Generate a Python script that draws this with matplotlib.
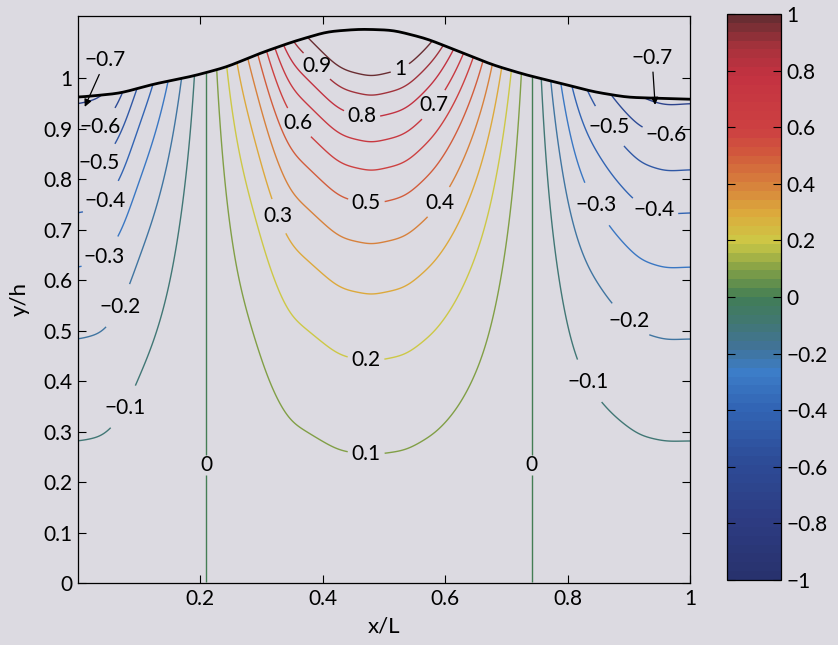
import numpy as np
import matplotlib
matplotlib.use("Agg")
import matplotlib.pyplot as plt
from matplotlib.colors import LinearSegmentedColormap, ListedColormap, Normalize
from matplotlib.cm import ScalarMappable

plt.rcParams["font.family"] = ["Lato", "DejaVu Sans"]
MINUS = "\u2212"
BG = "#dcdae1"

# free-surface elevation y/h along one wavelength
SURF_X = [0.0, 0.069, 0.123, 0.188, 0.243, 0.297, 0.351, 0.407, 0.461,
          0.515, 0.570, 0.624, 0.678, 0.733, 0.788, 0.842, 0.897, 1.0]
SURF_Y = [0.962, 0.970, 0.988, 1.004, 1.022, 1.049, 1.072, 1.092, 1.097,
          1.095, 1.078, 1.052, 1.026, 1.006, 0.990, 0.973, 0.962, 0.958]

# field value on the free surface
TOP_X = [0.0, 0.04, 0.07, 0.095, 0.123, 0.148, 0.169, 0.191, 0.210,
         0.227, 0.243, 0.259, 0.278, 0.295, 0.308, 0.322, 0.335, 0.350,
         0.376, 0.398, 0.418, 0.438, 0.478, 0.518, 0.538, 0.558,
         0.580, 0.597, 0.614, 0.630, 0.646,
         0.662, 0.677, 0.692, 0.708, 0.724, 0.742, 0.757, 0.772, 0.789,
         0.805, 0.83, 0.87, 0.92, 0.96, 1.0]
TOP_V = [-0.725, -0.71, -0.62, -0.5, -0.4, -0.3, -0.2, -0.1, 0.0,
         0.1, 0.2, 0.3, 0.4, 0.5, 0.6, 0.7, 0.8, 0.9,
         1.0, 1.10, 1.19, 1.244, 1.29, 1.244, 1.19, 1.10,
         1.0, 0.9, 0.8, 0.7, 0.6,
         0.5, 0.4, 0.3, 0.2, 0.1, 0.0, -0.1, -0.2, -0.3,
         -0.4, -0.5, -0.6, -0.7, -0.725, -0.715]

# vertical decay rate of the field below the surface
KAPPA_X = [0.0, 0.25, 0.48, 0.72, 1.0]
KAPPA_V = [2.5, 2.6, 2.7, 2.6, 2.5]

LEVELS = np.round(np.arange(-0.7, 1.01, 0.1), 1)
CBAR_TICKS = np.round(np.arange(-1.0, 1.01, 0.2), 1)

# where the contour labels sit
LABEL_POS = [(0.387, 1.020), (0.526, 1.020), (0.366, 0.917), (0.464, 0.927),
             (0.578, 0.950), (0.472, 0.762), (0.583, 0.760), (0.342, 0.733),
             (0.471, 0.448), (0.471, 0.259), (0.212, 0.234), (0.745, 0.234),
             (0.072, 0.350), (0.069, 0.547), (0.041, 0.648), (0.042, 0.758),
             (0.041, 0.822), (0.039, 0.897), (0.853, 0.412), (0.910, 0.531),
             (0.850, 0.752), (0.943, 0.745), (0.864, 0.901), (0.959, 0.871)]

# colour scale of the printed colour bar
CMAP_STOPS = [(-1.0, (40, 50, 110)), (-0.8, (45, 60, 130)), (-0.6, (45, 75, 150)),
              (-0.4, (50, 100, 180)), (-0.27, (60, 125, 200)), (-0.18, (65, 115, 150)),
              (-0.08, (65, 120, 110)), (0.0, (65, 125, 85)), (0.1, (130, 160, 70)),
              (0.2, (205, 200, 70)), (0.3, (220, 170, 60)), (0.4, (215, 130, 60)),
              (0.5, (210, 95, 60)), (0.6, (205, 65, 65)), (0.8, (195, 50, 65)),
              (0.9, (165, 50, 60)), (1.0, (105, 45, 50))]


def smooth_profile(xs, vs, xg, width=0.012):
    v = np.interp(xg, xs, vs)
    dx = xg[1] - xg[0]
    n = int(4 * width / dx)
    k = np.exp(-0.5 * (np.arange(-n, n + 1) * dx / width) ** 2)
    k /= k.sum()
    return np.convolve(np.pad(v, n, mode="edge"), k, mode="valid")


def fmt_level(v):
    s = f"{round(v, 1):g}"
    if s in ("-0", "0"):
        return "0"
    return s.replace("-", MINUS)


cmap = LinearSegmentedColormap.from_list(
    "print_jet", [((v + 1) / 2, tuple(c / 255 for c in rgb)) for v, rgb in CMAP_STOPS])
cmap64 = ListedColormap(cmap(np.linspace(0, 1, 64)))
norm = Normalize(-1, 1)

# ── field below the free surface ─────────────────────────────────────────────
xg = np.linspace(0, 1, 501)
yg = np.linspace(0.002, 1.12, 561)
eta = smooth_profile(SURF_X, SURF_Y, xg)
top = smooth_profile(TOP_X, TOP_V, xg)
kap = smooth_profile(KAPPA_X, KAPPA_V, xg, width=0.05)
amp = top / np.sinh(kap * eta)
F = amp[None, :] * np.sinh(kap[None, :] * yg[:, None])
F = np.ma.masked_where(yg[:, None] > eta[None, :], F)

fig = plt.figure(figsize=(8.38, 6.45), dpi=100, facecolor=BG)
ax = fig.add_axes([78 / 838, 62 / 645, 612 / 838, 567 / 645], facecolor=BG)

cs = ax.contour(xg, yg, F, levels=LEVELS, cmap=cmap, norm=norm, linewidths=1.0)
ax.clabel(cs, manual=LABEL_POS, inline=True, inline_spacing=4,
          fmt=fmt_level, fontsize=15, colors="k")
for t in cs.labelTexts:
    t.set_rotation(0)

ax.plot(xg, eta, color="k", lw=2.0)

arrow = dict(arrowstyle="-|>", color="k", lw=0.9, mutation_scale=11,
             shrinkA=1, shrinkB=0)
ax.annotate(f"{MINUS}0.7", xy=(0.011, 0.943), xytext=(0.045, 1.035),
            ha="center", va="center", fontsize=15, arrowprops=arrow)
ax.annotate(f"{MINUS}0.7", xy=(0.943, 0.947), xytext=(0.938, 1.040),
            ha="center", va="center", fontsize=15, arrowprops=arrow)

ax.set_xlim(0, 1)
ax.set_ylim(0, 1.123)
ax.set_xticks([0.2, 0.4, 0.6, 0.8, 1.0])
ax.set_xticklabels(["0.2", "0.4", "0.6", "0.8", "1"])
ax.set_yticks(np.round(np.arange(0, 1.01, 0.1), 1))
ax.set_yticklabels([fmt_level(v) for v in np.arange(0, 1.01, 0.1)])
ax.tick_params(direction="in", top=True, right=True, length=6, width=0.8,
               labelsize=15, pad=4)
for sp in ax.spines.values():
    sp.set_linewidth(0.9)
ax.set_xlabel("x/L", fontsize=16, labelpad=6)
ax.set_ylabel("y/h", fontsize=16, labelpad=10)

cax = fig.add_axes([727 / 838, 65 / 645, 54 / 838, 566 / 645])
cb = fig.colorbar(ScalarMappable(norm=norm, cmap=cmap64), cax=cax, ticks=CBAR_TICKS)
cb.ax.set_yticklabels([fmt_level(v) for v in CBAR_TICKS])
cb.ax.tick_params(direction="in", left=True, right=True, length=6, width=0.8,
                  labelsize=15, pad=4)
cb.outline.set_linewidth(0.9)

fig.savefig("out.png", dpi=100, facecolor=BG)
